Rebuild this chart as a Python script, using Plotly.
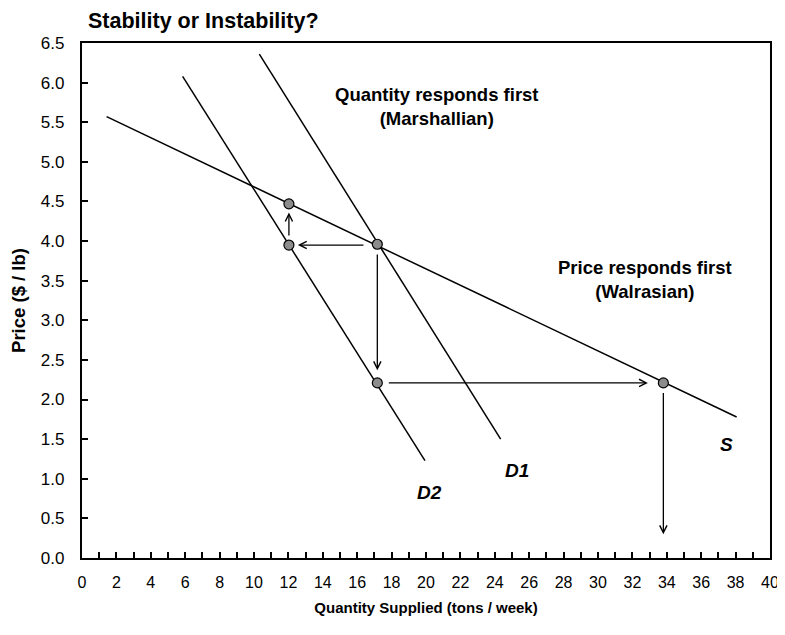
import plotly.graph_objects as go

# ---- data ----
s_q = [1.43, 38.06]
s_p = [5.57, 1.78]
d1_q = [10.31, 24.34]
d1_p = [6.36, 1.50]
d2_q = [5.85, 19.94]
d2_p = [6.08, 1.23]

pt_q = [12.03, 12.03, 17.17, 17.17, 33.8]
pt_p = [4.47, 3.95, 3.96, 2.21, 2.21]

# arrows: (tail_q, tail_p, head_q, head_p)
arrow_tail_q = [12.03, 16.45, 17.17, 17.75, 33.8]
arrow_tail_p = [4.05, 3.95, 3.85, 2.21, 2.10]
arrow_head_q = [12.03, 12.55, 17.17, 32.9, 33.8]
arrow_head_p = [4.36, 3.95, 2.37, 2.21, 0.30]

curve_labels = ["S", "D1", "D2"]
curve_label_q = [37.48, 25.29, 20.23]
curve_label_p = [1.43, 1.10, 0.83]

note_texts = ["Quantity responds first<br>(Marshallian)", "Price responds first<br>(Walrasian)"]
note_q = [20.62, 32.73]
note_p = [5.70, 3.52]

x_ticks = list(range(0, 41, 2))
y_ticks = [i * 0.5 for i in range(0, 14)]

FONT = "Liberation Sans, Arial, sans-serif"

fig = go.Figure()
for q, p in [(s_q, s_p), (d1_q, d1_p), (d2_q, d2_p)]:
    fig.add_trace(go.Scatter(x=q, y=p, mode="lines",
                             line=dict(color="black", width=1.5),
                             showlegend=False, hoverinfo="skip"))

fig.add_trace(go.Scatter(x=pt_q, y=pt_p, mode="markers",
                         marker=dict(size=10, color="#8c8c8c",
                                     line=dict(color="black", width=1.2)),
                         showlegend=False))

anns = []
for tq, tp, hq, hp in zip(arrow_tail_q, arrow_tail_p, arrow_head_q, arrow_head_p):
    anns.append(dict(x=hq, y=hp, ax=tq, ay=tp, xref="x", yref="y",
                     axref="x", ayref="y", text="", showarrow=True,
                     arrowhead=5, arrowsize=1.1, arrowwidth=1.3,
                     arrowcolor="black", standoff=0, startstandoff=0))
for t, q, p in zip(curve_labels, curve_label_q, curve_label_p):
    anns.append(dict(x=q, y=p, xref="x", yref="y", text="<b><i>%s</i></b>" % t,
                     showarrow=False, font=dict(size=19, color="black", family=FONT)))
for t, q, p in zip(note_texts, note_q, note_p):
    anns.append(dict(x=q, y=p, xref="x", yref="y", text="<b>%s</b>" % t,
                     showarrow=False, align="center",
                     font=dict(size=18.5, color="black", family=FONT)))

fig.update_layout(
    width=777, height=627,
    margin=dict(l=74, r=15, t=35, b=77, autoexpand=False),
    paper_bgcolor="white", plot_bgcolor="white",
    font=dict(family=FONT, color="black", size=16),
    title=dict(text="<b>Stability or Instability?</b>", x=80/777, xanchor="left",
               xref="container", y=1 - 12/627, yanchor="middle",
               font=dict(size=21.5, family=FONT, color="black")),
    annotations=anns,
)
fig.update_xaxes(range=[0, 40], tickvals=x_ticks, ticktext=[str(v) for v in x_ticks],
                 ticks="inside", ticklen=6, tickwidth=1.8, tickcolor="black",
                 minor=dict(ticks="inside", dtick=1, tick0=0, ticklen=6, tickwidth=1.8, tickcolor="black"),
                 showline=True, linewidth=2.2, linecolor="black", mirror=True,
                 showgrid=False, zeroline=False, ticklabelstandoff=9, automargin=False,
                 tickfont=dict(size=16, family=FONT),
                 title=dict(text="<b>Quantity Supplied (tons / week)</b>", standoff=12,
                            font=dict(size=15, family=FONT)))
fig.update_yaxes(range=[0, 6.5], tickvals=y_ticks, ticktext=["%.1f" % v for v in y_ticks],
                 ticks="inside", ticklen=6, tickwidth=1.8, tickcolor="black",
                 showline=True, linewidth=2.2, linecolor="black", mirror=True,
                 showgrid=False, zeroline=False, ticklabelstandoff=12, automargin=False,
                 tickfont=dict(size=17, family=FONT),
                 title=dict(text="<b>Price ($ / lb)</b>", standoff=10,
                            font=dict(size=18.5, family=FONT)))

fig.write_html("out.html")
